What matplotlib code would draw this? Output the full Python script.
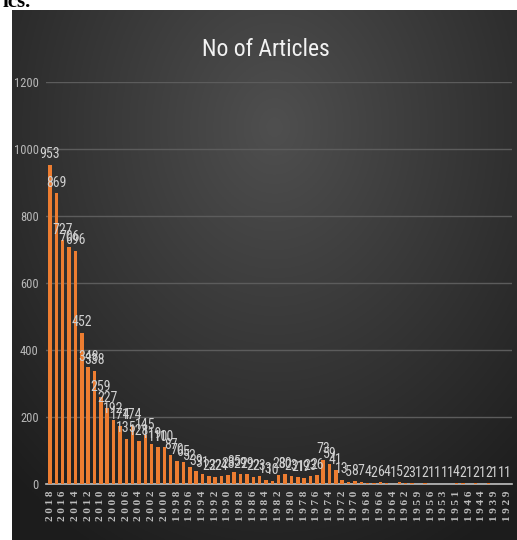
import numpy as np
import matplotlib
matplotlib.use("Agg")
import matplotlib.pyplot as plt
from matplotlib import font_manager

# Publication years (newest first) and number of articles per year
years = [2018, 2017, 2016, 2015, 2014, 2013, 2012, 2011, 2010, 2009,
         2008, 2007, 2006, 2005, 2004, 2003, 2002, 2001, 2000, 1999,
         1998, 1997, 1996, 1995, 1994, 1993, 1992, 1991, 1990, 1989,
         1988, 1987, 1986, 1985, 1984, 1983, 1982, 1981, 1980, 1979,
         1978, 1977, 1976, 1975, 1974, 1973, 1972, 1971, 1970, 1969,
         1968, 1967, 1966, 1965, 1964, 1963, 1962, 1960, 1959, 1958,
         1956, 1954, 1953, 1952, 1951, 1948, 1946, 1945, 1944, 1940,
         1939, 1933, 1929]
articles = [953, 869, 727, 706, 696, 452, 348, 338, 259, 227,
            192, 174, 135, 174, 128, 145, 119, 110, 110, 87,
            70, 65, 52, 39, 31, 23, 22, 24, 28, 35,
            29, 29, 22, 23, 13, 10, 28, 30, 23, 21,
            19, 23, 26, 73, 59, 41, 13, 5, 8, 7,
            4, 2, 6, 4, 1, 5, 2, 3, 1, 2,
            1, 1, 1, 1, 4, 2, 1, 2, 1, 2,
            1, 1, 1]
yticks = [0, 200, 400, 600, 800, 1000, 1200]

# pick a narrow sans if one is around
installed = {f.name for f in font_manager.fontManager.ttflist}
narrow = "Lato"
for name in ["Liberation Sans Narrow", "DejaVu Sans Condensed", "Roboto Condensed",
             "Open Sans Condensed", "Noto Sans Condensed"]:
    if name in installed:
        narrow = name
        break

W, H = 517, 540
fig = plt.figure(figsize=(W / 100, H / 100), dpi=100)
fig.patch.set_facecolor("white")

# dark radial background panel
bg = fig.add_axes([12 / W, 0, 1 - 12 / W, 1 - 10 / H])
gy, gx = np.mgrid[0:1:300j, 0:1:300j]
r = np.sqrt(((gx - 0.52) / 0.85) ** 2 + ((gy - 0.22) / 1.0) ** 2)
shade = np.clip(0.31 - 0.22 * r, 0.11, 0.31)
bg.imshow(np.dstack([shade] * 3), aspect="auto", extent=[0, 1, 1, 0])
bg.set_axis_off()

# cut-off text from the page above
fig.text(0.005, 1.015, "ics.", fontsize=15, fontweight="bold",
         family="Liberation Serif", color="black", va="top", ha="left")

ax = fig.add_axes([45.6 / W, 1 - 484 / H, (511.8 - 45.6) / W, (484 - 82) / H])
ax.patch.set_alpha(0)
x = np.arange(len(years))
ax.bar(x, articles, width=0.55, color="#ed7d31", zorder=3)

for xi, v in zip(x, articles):
    ax.text(xi, v + 10, str(v), ha="center", va="bottom", fontsize=10,
            family=narrow, color="#d0d0d0", zorder=4)

ax.set_xlim(-0.7, len(years) - 0.3)
ax.set_ylim(0, 1200)
ax.set_yticks(yticks)
ax.set_yticklabels([str(t) for t in yticks], family=narrow, fontsize=9, color="#b8b8b8")
ax.yaxis.grid(True, color="#5c5c5c", linewidth=1.0, zorder=0)
ax.tick_params(axis="y", length=0, pad=5)

ax.set_xticks(x[::2])
ax.set_xticklabels([" ".join(str(y)) for y in years[::2]], rotation=90,
                   family="Liberation Serif", fontweight="bold", fontsize=8,
                   color="#bdbdbd")
ax.tick_params(axis="x", length=0, pad=5)

for side in ["top", "right", "left"]:
    ax.spines[side].set_visible(False)
ax.spines["bottom"].set_color("#bfbfbf")
ax.spines["bottom"].set_linewidth(1.2)

fig.text(266 / W, 1 - 50 / H, "No of Articles", ha="center", va="center",
         fontsize=17, family=narrow, color="#f2f2f2")

fig.savefig("out.png", dpi=100)
